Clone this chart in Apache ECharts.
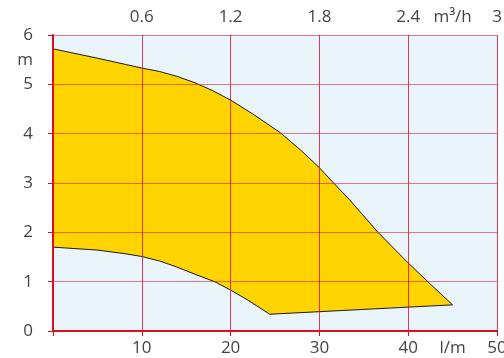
<!DOCTYPE html>
<html>
<head>
<meta charset="utf-8">
<script src="https://cdn.jsdelivr.net/npm/echarts@6/dist/echarts.min.js"></script>
<style>html,body{margin:0;padding:0;background:#fff;}#c{width:504px;height:358px;}</style>
</head>
<body>
<div id="c"></div>
<script>
// Upper (max) curve, flow in l/min, head in m
var upperX = [0, 5, 10, 12, 14, 16, 18, 20, 22.5, 25.6, 28, 30, 31.6, 33.4, 36.6, 40, 42.2, 45];
var upperY = [5.72, 5.53, 5.33, 5.26, 5.16, 5.03, 4.87, 4.68, 4.4, 4.02, 3.65, 3.31, 3.0, 2.66, 2.0, 1.38, 1.0, 0.53];
// Lower (min) curve
var lowerX = [0, 5, 8, 10, 12, 13.9, 16, 18.2, 20, 22, 24.4];
var lowerY = [1.70, 1.64, 1.57, 1.51, 1.42, 1.30, 1.15, 1.0, 0.83, 0.62, 0.34];
// Tick labels
var bottomTicks = [10, 20, 30, 40, 50];
var bottomUnit = 'l/m';
var topTicks = ['0.6', '1.2', '1.8', '2.4', '3'];
var topUnit = 'm³/h';
var leftTicks = [0, 1, 2, 3, 4, 5, 6];
var leftUnit = 'm';

var poly = [];
for (var i = 0; i < upperX.length; i++) poly.push([upperX[i], upperY[i]]);
for (var j = lowerX.length - 1; j >= 0; j--) poly.push([lowerX[j], lowerY[j]]);

var red = '#e30b24';
var font = 'Open Sans';
var lbl = {color: '#444', fontSize: 17, fontFamily: font};

var chart = echarts.init(document.getElementById('c'), null, {renderer: 'canvas'});
chart.setOption({
  animation: false,
  grid: {left: 53, right: 7, top: 35, bottom: 27, show: true, backgroundColor: '#eaf4fb', borderWidth: 0, z: 0,
         containLabel: false, outerBoundsMode: 'none'},
  xAxis: [
    {type: 'value', min: 0, max: 50, interval: 10, position: 'bottom', z: 5,
     axisLine: {show: true, onZero: false, lineStyle: {color: red, width: 2}},
     axisTick: {show: true, length: 5, lineStyle: {color: red, width: 1}},
     splitLine: {show: true, lineStyle: {color: 'rgba(227,11,36,0.8)', width: 1}},
     axisLabel: Object.assign({margin: 9, formatter: function (v) { return bottomTicks.indexOf(v) >= 0 ? String(v) : ''; }}, lbl)},
    {type: 'value', min: 0, max: 50, interval: 5, position: 'bottom', z: 5,
     axisLine: {show: false}, axisTick: {show: false}, splitLine: {show: false},
     axisLabel: Object.assign({margin: 9, showMaxLabel: false, formatter: function (v) { return Math.round(v) === 45 ? bottomUnit : ''; }}, lbl)},
    {type: 'value', min: 0, max: 3, interval: 0.3, position: 'top', z: 5,
     axisLine: {show: false}, axisTick: {show: false}, splitLine: {show: false},
     axisLabel: Object.assign({margin: 9, formatter: function (v) {
       var k = Math.round(v * 10);
       if (k === 27) return topUnit;
       if (k > 0 && k % 6 === 0) return topTicks[k / 6 - 1];
       return '';
     }}, lbl)}
  ],
  yAxis: [
    {type: 'value', min: 0, max: 6, interval: 1, position: 'left', z: 5,
     axisLine: {show: true, onZero: false, lineStyle: {color: red, width: 2}},
     axisTick: {show: true, length: 5, lineStyle: {color: red, width: 1}},
     splitLine: {show: true, lineStyle: {color: 'rgba(227,11,36,0.55)', width: 1}},
     axisLabel: Object.assign({margin: 20, formatter: function (v) { return leftTicks.indexOf(v) >= 0 ? String(v) : ''; }}, lbl)},
    {type: 'value', min: 0, max: 6, interval: 0.5, position: 'left', z: 5,
     axisLine: {show: false}, axisTick: {show: false}, splitLine: {show: false},
     axisLabel: Object.assign({margin: 20, formatter: function (v) { return Math.round(v * 10) === 55 ? leftUnit : ''; }}, lbl)}
  ],
  series: [{
    type: 'custom', z: 2, xAxisIndex: 0, yAxisIndex: 0,
    data: [0],
    renderItem: function (params, api) {
      var pts = poly.map(function (p) { return api.coord(p); });
      return {type: 'polygon', shape: {points: pts},
              style: {fill: '#ffd400', stroke: '#1a1a1a', lineWidth: 1}};
    }
  }]
});
</script>
</body>
</html>
